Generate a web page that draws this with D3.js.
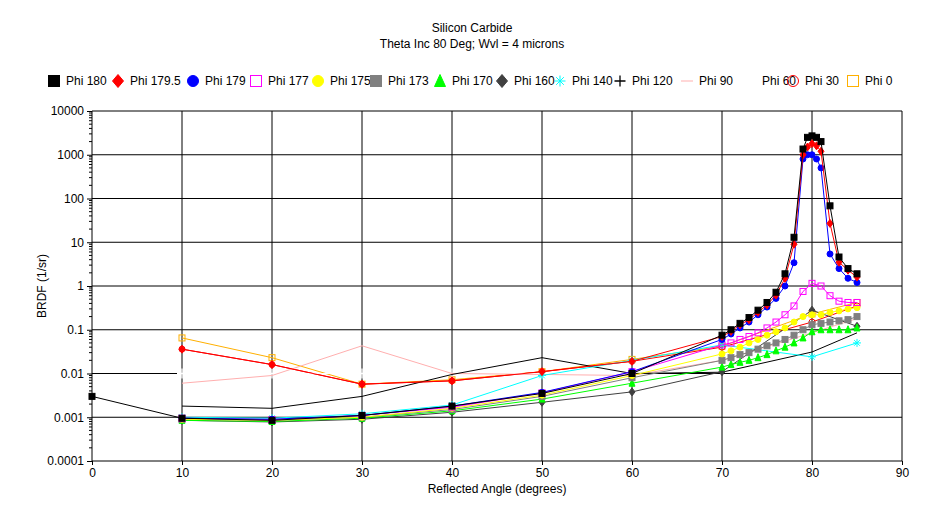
<!DOCTYPE html>
<html><head><meta charset="utf-8">
<script src="https://cdn.jsdelivr.net/npm/d3@7"></script>
<style>body{margin:0;background:#fff}text{font-family:"Liberation Sans",Arial,sans-serif;font-size:12px}</style>
</head><body><svg id="c" width="945" height="518"></svg>
<script>
// data
const peakX = [70,71,72,73,74,75,76,77,78,79,79.5,80,80.5,81,82,83,84,85];
const fineX = [70,71,72,73,74,75,76,77,78,79,80,81,82,83,84,85];
const lowX = [10,20,30,40,50,60];
const coarseX = [10,20,30,40,50,60,70,80,85];

const phi180 = [0.003,0.00095,0.00085,0.0011,0.0018,0.0035,0.01, 0.075,0.1,0.14,0.19,0.28,0.42,0.72,1.9,13,1350,2500,2700,2500,2000,68,4.6,2.5,1.9];
const phi1795 = [0.036,0.016,0.0057,0.0068,0.011,0.019, 0.07,0.092,0.13,0.17,0.25,0.37,0.62,1.5,9,1000,1500,1800,1600,1200,27,3.5,2.3,1.6];
const phi179 = [0.00095,0.0009,0.0011,0.0018,0.0037,0.011, 0.06,0.08,0.11,0.15,0.22,0.33,0.52,1.0,3.4,800,1000,1000,800,500,5.4,2.5,1.5,1.2];
const phi177 = [0.00095,0.00088,0.0011,0.0017,0.0036,0.011, 0.045,0.05,0.06,0.07,0.085,0.11,0.15,0.22,0.35,0.75,1.15,1.0,0.6,0.45,0.42,0.42];
const phi175 = [0.0009,0.00085,0.001,0.0016,0.0032,0.009, 0.028,0.033,0.04,0.05,0.06,0.075,0.09,0.11,0.15,0.2,0.22,0.22,0.25,0.27,0.3,0.32];
const phi173 = [0.0009,0.00085,0.001,0.0015,0.003,0.008, 0.02,0.023,0.027,0.03,0.036,0.043,0.05,0.06,0.075,0.1,0.13,0.14,0.15,0.16,0.17,0.2];
const phi170 = [0.00085,0.0008,0.00095,0.0014,0.0026,0.006, 0.014,0.016,0.018,0.02,0.023,0.027,0.033,0.04,0.05,0.065,0.09,0.1,0.1,0.1,0.1,0.11];
const phi160 = [0.00085,0.00078,0.0009,0.0013,0.0022,0.0038,0.011,0.28,0.12];
const phi140 = [0.001,0.00095,0.0012,0.0019,0.009,0.02,0.045,0.024,0.05];
const phi120 = [0.0018,0.0016,0.003,0.0095,0.023,0.01,0.0107,0.031,0.085];
const phi90 = [0.006,0.009,0.043,0.01,0.0095,0.009,0.02,0.085,0.18];
const phi60 = [0.01,0.01,0.01,0.01,0.01,0.01];
const phi30 = [0.036,0.016,0.0057,0.0068,0.011,0.019,0.04,0.15,0.35];
const phi0 = [0.065,0.023,0.0057,0.0072,0.011,0.021,0.042,0.23,0.42];

const xTicks = d3.range(0, 91, 10);
const yTicks = [0.0001,0.001,0.01,0.1,1,10,100,1000,10000];
const yTickLabels = ["0.0001","0.001","0.01","0.1","1","10","100","1000","10000"];

const series = [
  {name:"Phi 180", xs:[0].concat(lowX, peakX), ys:phi180, color:"#000", sym:"square", fill:true},
  {name:"Phi 179.5", xs:[10,20,30,40,50,60].concat(peakX), ys:phi1795, color:"#f00", sym:"diamond", fill:true},
  {name:"Phi 179", xs:lowX.concat(peakX), ys:phi179, color:"#00f", sym:"circle", fill:true},
  {name:"Phi 177", xs:lowX.concat(fineX), ys:phi177, color:"#f0f", sym:"square", fill:false},
  {name:"Phi 175", xs:lowX.concat(fineX), ys:phi175, color:"#ff0", sym:"circle", fill:true},
  {name:"Phi 173", xs:lowX.concat(fineX), ys:phi173, color:"#808080", sym:"square", fill:true},
  {name:"Phi 170", xs:lowX.concat(fineX), ys:phi170, color:"#0f0", sym:"triangle", fill:true},
  {name:"Phi 160", xs:coarseX, ys:phi160, color:"#404040", sym:"diamond", fill:true},
  {name:"Phi 140", xs:coarseX, ys:phi140, color:"#0ff", sym:"star", fill:false},
  {name:"Phi 120", xs:coarseX, ys:phi120, color:"#000", sym:"plus", fill:false},
  {name:"Phi 90", xs:coarseX, ys:phi90, color:"#ffafaf", sym:"dash", fill:false},
  {name:"Phi 60", xs:lowX, ys:phi60, color:"#fff", sym:"plus", fill:false},
  {name:"Phi 30", xs:coarseX, ys:phi30, color:"#f00", sym:"circle", fill:false},
  {name:"Phi 0", xs:coarseX, ys:phi0, color:"#ffb000", sym:"square", fill:false}
];
// which series carry markers at each point in the plot
const markAll = {"Phi 180":1,"Phi 179.5":1,"Phi 179":1,"Phi 177":1,"Phi 175":1,"Phi 173":1,"Phi 170":1,"Phi 160":1,"Phi 140":1,"Phi 120":0,"Phi 90":0,"Phi 60":1,"Phi 30":1,"Phi 0":1};

const svg = d3.select("#c");
const x = d3.scaleLinear().domain([0, 90]).range([92, 902]);
const y = d3.scaleLog().domain([0.0001, 10000]).range([461, 111]);

svg.append("text").attr("x", 472).attr("y", 32).attr("text-anchor", "middle").text("Silicon Carbide");
svg.append("text").attr("x", 472).attr("y", 48).attr("text-anchor", "middle").text("Theta Inc 80 Deg; Wvl = 4 microns");

// grid
const g = svg.append("g");
g.selectAll(".vx").data(xTicks).join("line").attr("x1", x).attr("x2", x).attr("y1", 111).attr("y2", 461).attr("stroke", "#000");
g.selectAll(".hy").data(yTicks).join("line").attr("x1", 92).attr("x2", 902).attr("y1", y).attr("y2", y).attr("stroke", "#000");

// axes
const yAxis = d3.axisLeft(y).tickValues(yTicks).tickFormat((d, i) => yTickLabels[i]).tickSize(5);
svg.append("g").attr("transform", "translate(92,0)").call(yAxis)
  .call(a => a.select(".domain").remove())
  .call(a => a.selectAll("text").style("font-size", "12px").style("font-family", "Liberation Sans"));
const minor = [];
yTicks.slice(0, -1).forEach(t => { for (let k = 2; k < 10; k++) minor.push(t * k); });
svg.append("g").selectAll("line").data(minor).join("line")
  .attr("x1", 89).attr("x2", 92).attr("y1", y).attr("y2", y).attr("stroke", "#000");
const xAxis = d3.axisBottom(x).tickValues(xTicks).tickSize(4);
svg.append("g").attr("transform", "translate(0,461)").call(xAxis)
  .call(a => a.select(".domain").remove())
  .call(a => a.selectAll("text").style("font-size", "12px").style("font-family", "Liberation Sans"));

svg.append("text").attr("x", 497).attr("y", 493).attr("text-anchor", "middle").text("Reflected Angle (degrees)");
svg.append("text").attr("transform", "translate(46,286) rotate(-90)").attr("text-anchor", "middle").text("BRDF (1/sr)");

function symbol(sel, s, cx, cy, r) {
  const fill = s.fill ? s.color : "none";
  if (s.sym === "square") sel.append("rect").attr("x", cx - r).attr("y", cy - r).attr("width", 2 * r).attr("height", 2 * r).attr("fill", s.fill ? s.color : "#fff").attr("fill-opacity", s.fill ? 1 : 0).attr("stroke", s.color);
  else if (s.sym === "circle") sel.append("circle").attr("cx", cx).attr("cy", cy).attr("r", r).attr("fill", fill).attr("stroke", s.color);
  else if (s.sym === "diamond") sel.append("path").attr("d", `M${cx},${cy - r - 1}L${cx + r},${cy}L${cx},${cy + r + 1}L${cx - r},${cy}Z`).attr("fill", fill).attr("stroke", s.color);
  else if (s.sym === "triangle") sel.append("path").attr("d", `M${cx},${cy - r - 1}L${cx + r},${cy + r}L${cx - r},${cy + r}Z`).attr("fill", fill).attr("stroke", s.color);
  else if (s.sym === "plus") sel.append("path").attr("d", `M${cx - r},${cy}H${cx + r}M${cx},${cy - r}V${cy + r}`).attr("stroke", s.color).attr("stroke-width", 1.3);
  else if (s.sym === "star") sel.append("path").attr("d", `M${cx - r},${cy}H${cx + r}M${cx},${cy - r}V${cy + r}M${cx - r * .7},${cy - r * .7}L${cx + r * .7},${cy + r * .7}M${cx - r * .7},${cy + r * .7}L${cx + r * .7},${cy - r * .7}`).attr("stroke", s.color);
  else if (s.sym === "dash") sel.append("path").attr("d", `M${cx - r},${cy}H${cx + r}`).attr("stroke", s.color);
}

const line = d3.line().x(d => x(d[0])).y(d => y(d[1]));
const plot = svg.append("g");
series.slice().reverse().forEach(s => {
  const pts = s.xs.map((v, i) => [v, s.ys[i]]);
  plot.append("path").attr("d", line(pts)).attr("fill", "none").attr("stroke", s.color).attr("stroke-width", 1);
  if (markAll[s.name]) {
    const r = (s.sym === "star") ? 4 : 3;
    const sz = (s.name === "Phi 60") ? 5 : r;
    pts.forEach(p => symbol(plot, s, x(p[0]), y(p[1]), sz));
  }
});

// legend
const legX = [54, 118, 193, 256, 318, 376, 440, 502, 560, 620, 687, 750, 793, 853];
const leg = svg.append("g");
series.forEach((s, i) => {
  const big = Object.assign({}, s);
  if (s.name !== "Phi 60") symbol(leg, big, legX[i], 81, s.sym === "dash" ? 6 : 5.5);
  leg.append("text").attr("x", legX[i] + 12).attr("y", 85).text(s.name);
});
</script></body></html>
